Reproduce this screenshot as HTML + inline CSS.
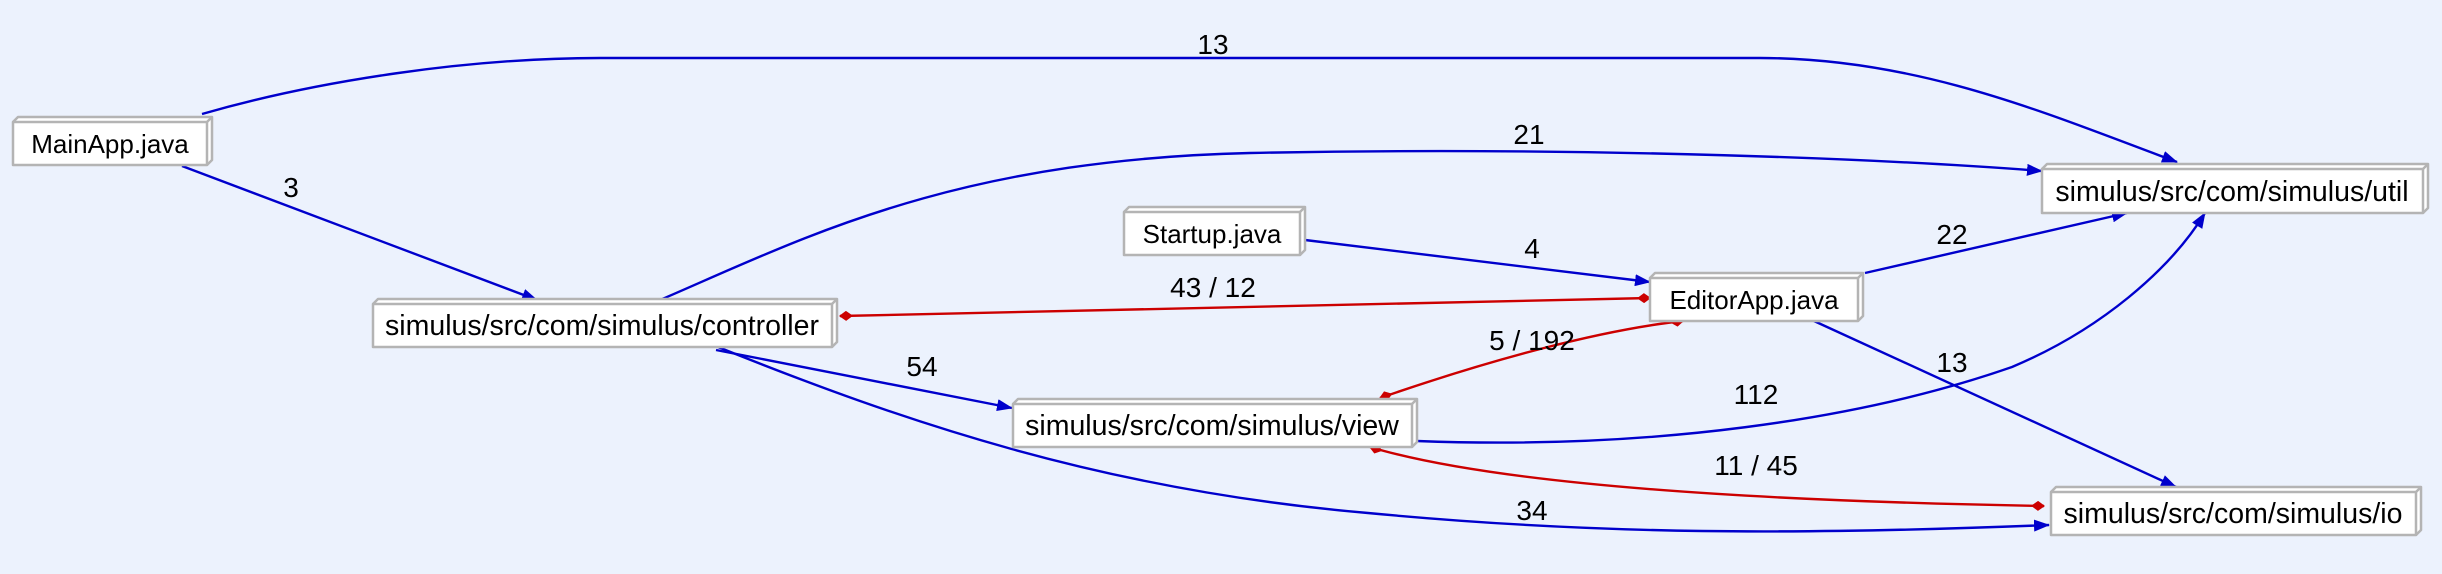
<!DOCTYPE html>
<html><head><meta charset="utf-8"><style>
html,body{margin:0;padding:0;background:#ecf2fd;}
svg{display:block;font-family:"Liberation Sans",Arial,sans-serif;}
</style></head><body>
<svg width="2442" height="574" viewBox="0 0 2442 574" xmlns="http://www.w3.org/2000/svg">
<defs>
<marker id="ab" markerWidth="16" markerHeight="12" refX="15" refY="6" orient="auto" markerUnits="userSpaceOnUse"><path d="M0,0 L16,6 L0,12 z" fill="#0000cc"/></marker>
<marker id="dr" markerWidth="14" markerHeight="10" refX="13" refY="5" orient="auto" markerUnits="userSpaceOnUse"><path d="M0,5 L7,0 L14,5 L7,10 z" fill="#cc0000"/></marker>
<marker id="drs" markerWidth="14" markerHeight="10" refX="1" refY="5" orient="auto" markerUnits="userSpaceOnUse"><path d="M0,5 L7,0 L14,5 L7,10 z" fill="#cc0000"/></marker>
</defs>
<rect width="2442" height="574" fill="#ecf2fd"/>
<g fill="none" stroke="#0000cc" stroke-width="2.4">
<path d="M202,114 C320,80 470,58 600,58 L1760,58 C1920,58 2050,115 2177,162" marker-end="url(#ab)"/>
<path d="M182,166 L537,300" marker-end="url(#ab)"/>
<path d="M660,300 C800,240 950,160 1250,153 C1600,146 1900,160 2042,171" marker-end="url(#ab)"/>
<path d="M1305,240 L1650,282" marker-end="url(#ab)"/>
<path d="M1865,273 L2127,213" marker-end="url(#ab)"/>
<path d="M716,350 L1012,408" marker-end="url(#ab)"/>
<path d="M1417,441 C1650,450 1860,420 2012,367 C2100,330 2170,270 2205,213" marker-end="url(#ab)"/>
<path d="M1814,321 L2176,487" marker-end="url(#ab)"/>
<path d="M718,347 C900,420 1100,490 1368,513 C1600,535 1800,535 2049,525" marker-end="url(#ab)"/>
</g>
<g fill="none" stroke="#cc0000" stroke-width="2.4">
<path d="M840,316 L1650,298" marker-start="url(#drs)" marker-end="url(#dr)"/>
<path d="M1380,398 C1490,360 1600,330 1683,321" marker-start="url(#drs)" marker-end="url(#dr)"/>
<path d="M1370,447 C1480,480 1700,500 2044,506" marker-start="url(#drs)" marker-end="url(#dr)"/>
</g>
<g font-size="28" fill="#000" text-anchor="middle">
<text x="1213" y="54">13</text>
<text x="291" y="197">3</text>
<text x="1529" y="144">21</text>
<text x="1532" y="258">4</text>
<text x="1213" y="297">43 / 12</text>
<text x="1952" y="244">22</text>
<text x="922" y="376">54</text>
<text x="1532" y="350">5 / 192</text>
<text x="1756" y="404">112</text>
<text x="1952" y="372">13</text>
<text x="1756" y="475">11 / 45</text>
<text x="1532" y="520">34</text>
</g>
<g font-size="26" fill="#000" text-anchor="middle" stroke-linejoin="round">
<g>
<path d="M13,122 L18,117 L212,117 L212,160 L207,165" fill="#fff" stroke="#b4b4b4" stroke-width="2.5"/>
<rect x="13" y="122" width="194" height="43" fill="#fff" stroke="#b4b4b4" stroke-width="2.5"/>
<line x1="207" y1="122" x2="212" y2="117" stroke="#b4b4b4" stroke-width="2.5"/>
<text x="110" y="153">MainApp.java</text>
</g>
<g>
<path d="M373,304 L378,299 L837,299 L837,342 L832,347" fill="#fff" stroke="#b4b4b4" stroke-width="2.5"/>
<rect x="373" y="304" width="459" height="43" fill="#fff" stroke="#b4b4b4" stroke-width="2.5"/>
<line x1="832" y1="304" x2="837" y2="299" stroke="#b4b4b4" stroke-width="2.5"/>
<text x="602" y="335" font-size="28.5">simulus/src/com/simulus/controller</text>
</g>
<g>
<path d="M1124,212 L1129,207 L1305,207 L1305,250 L1300,255" fill="#fff" stroke="#b4b4b4" stroke-width="2.5"/>
<rect x="1124" y="212" width="176" height="43" fill="#fff" stroke="#b4b4b4" stroke-width="2.5"/>
<line x1="1300" y1="212" x2="1305" y2="207" stroke="#b4b4b4" stroke-width="2.5"/>
<text x="1212" y="243">Startup.java</text>
</g>
<g>
<path d="M1650,278 L1655,273 L1863,273 L1863,316 L1858,321" fill="#fff" stroke="#b4b4b4" stroke-width="2.5"/>
<rect x="1650" y="278" width="208" height="43" fill="#fff" stroke="#b4b4b4" stroke-width="2.5"/>
<line x1="1858" y1="278" x2="1863" y2="273" stroke="#b4b4b4" stroke-width="2.5"/>
<text x="1754" y="309">EditorApp.java</text>
</g>
<g>
<path d="M1013,404 L1018,399 L1417,399 L1417,442 L1412,447" fill="#fff" stroke="#b4b4b4" stroke-width="2.5"/>
<rect x="1013" y="404" width="399" height="43" fill="#fff" stroke="#b4b4b4" stroke-width="2.5"/>
<line x1="1412" y1="404" x2="1417" y2="399" stroke="#b4b4b4" stroke-width="2.5"/>
<text x="1212" y="435" font-size="28.5">simulus/src/com/simulus/view</text>
</g>
<g>
<path d="M2051,492 L2056,487 L2421,487 L2421,530 L2416,535" fill="#fff" stroke="#b4b4b4" stroke-width="2.5"/>
<rect x="2051" y="492" width="365" height="43" fill="#fff" stroke="#b4b4b4" stroke-width="2.5"/>
<line x1="2416" y1="492" x2="2421" y2="487" stroke="#b4b4b4" stroke-width="2.5"/>
<text x="2233" y="523" font-size="28.5">simulus/src/com/simulus/io</text>
</g>
<g>
<path d="M2042,169 L2047,164 L2428,164 L2428,208 L2423,213" fill="#fff" stroke="#b4b4b4" stroke-width="2.5"/>
<rect x="2042" y="169" width="381" height="44" fill="#fff" stroke="#b4b4b4" stroke-width="2.5"/>
<line x1="2423" y1="169" x2="2428" y2="164" stroke="#b4b4b4" stroke-width="2.5"/>
<text x="2232" y="201" font-size="28.5">simulus/src/com/simulus/util</text>
</g>
</g>
</svg>
</body></html>
